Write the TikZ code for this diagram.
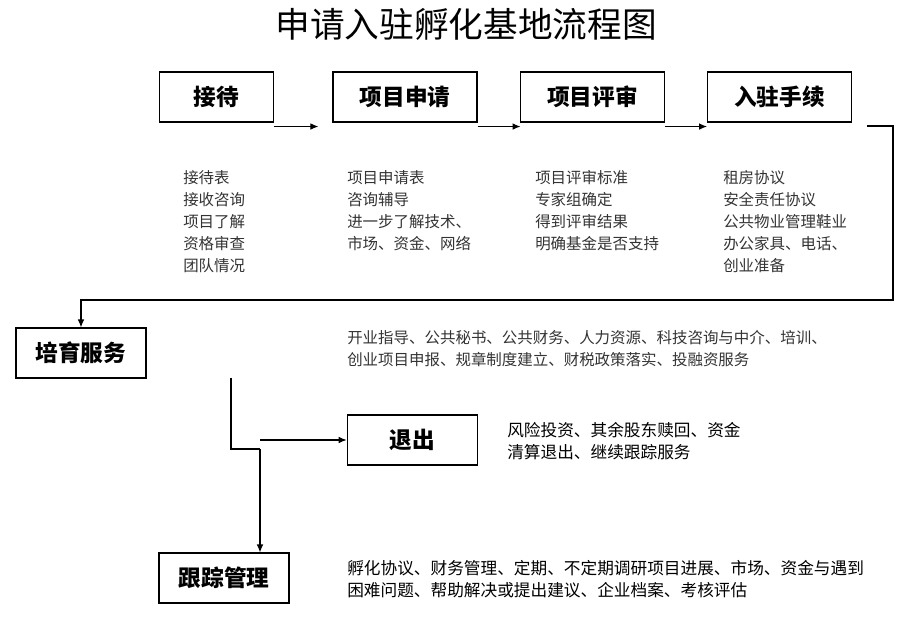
\documentclass[tikz,border=0pt]{standalone}
\usepackage{fontspec}
\setmainfont{Noto Sans CJK SC}
\usetikzlibrary{arrows.meta}
\tikzset{step/.style={draw=black,thick,minimum width=#1,minimum height=37.5pt,inner sep=0pt,font=\fontsize{17}{20}\selectfont\bfseries},
	step/.default=108pt,
	note/.style={anchor=north west,align=left,inner sep=0pt,font=\fontsize{11.6}{16.5}\selectfont},
	plain/.style={note,font=\fontsize{12.5}{16.5}\selectfont},
	flow/.style={thick,-{Latex[length=6pt,width=5pt]}}}
\begin{document}
\begin{tikzpicture}[x=0.75pt,y=-0.75pt]
				      \useasboundingbox (0,0) rectangle (922,642);
				      \node (title) at (466,24) {\fontsize{26}{30}\selectfont 申请入驻孵化基地流程图};

				      \node[step=86pt] (A) at (216.5,97) {接待};
				      \node[step] (B) at (405,97) {项目申请};
				      \node[step] (C) at (592.5,97) {项目评审};
				      \node[step] (D) at (779.5,97) {入驻手续};
				      \node[step=97.5pt] (E) at (81,353) {培育服务};
				      \node[step=98pt] (F) at (412.5,440) {退出};
				      \node[step=97.5pt] (G) at (224,578) {跟踪管理};

				      \node[note,text=black!80] (a) at (183,170) {接待表\\接收咨询\\项目了解\\资格审查\\团队情况};
				      \node[note,text=black!80] (b) at (347,170) {项目申请表\\咨询辅导\\进一步了解技术、\\市场、资金、网络};
				      \node[note,text=black!80] (c) at (535,170) {项目评审标准\\专家组确定\\得到评审结果\\明确基金是否支持};
				      \node[note,text=black!80] (d) at (723,170) {租房协议\\安全责任协议\\公共物业管理鞋业\\办公家具、电话、\\创业准备};
				      \node[note,text=black!80] (e) at (347,330) {开业指导、公共秘书、公共财务、人力资源、科技咨询与中介、培训、\\创业项目申报、规章制度建立、财税政策落实、投融资服务};
				      \node[plain] (f) at (507,422) {风险投资、其余股东赎回、资金\\清算退出、继续跟踪服务};
				      \node[plain] (g) at (347,560) {孵化协议、财务管理、定期、不定期调研项目进展、市场、资金与遇到\\困难问题、帮助解决或提出建议、企业档案、考核评估};

				      \coordinate (k1) at (867,126);
				      \coordinate (k2) at (893,300);
				      \coordinate (k3) at (231,378);
				      \coordinate (k4) at (260,449);

				      \draw[flow] (A.south east) ++(0,4) -- ++(44,0);
				      \draw[flow] (B.south east) ++(0,4) -- ++(43,0);
				      \draw[flow] (C.south east) ++(0,4) -- ++(42,0);
				      \draw[flow] (k1) -| (k2) -| (E.north);
				      \draw[thick] (k3) |- (k4);
				      \draw[flow] (k4) -- (G.north -| k4);
				      \draw[flow] (k4 |- F.west) -- (F.west);
			      \end{tikzpicture}
\end{document}
